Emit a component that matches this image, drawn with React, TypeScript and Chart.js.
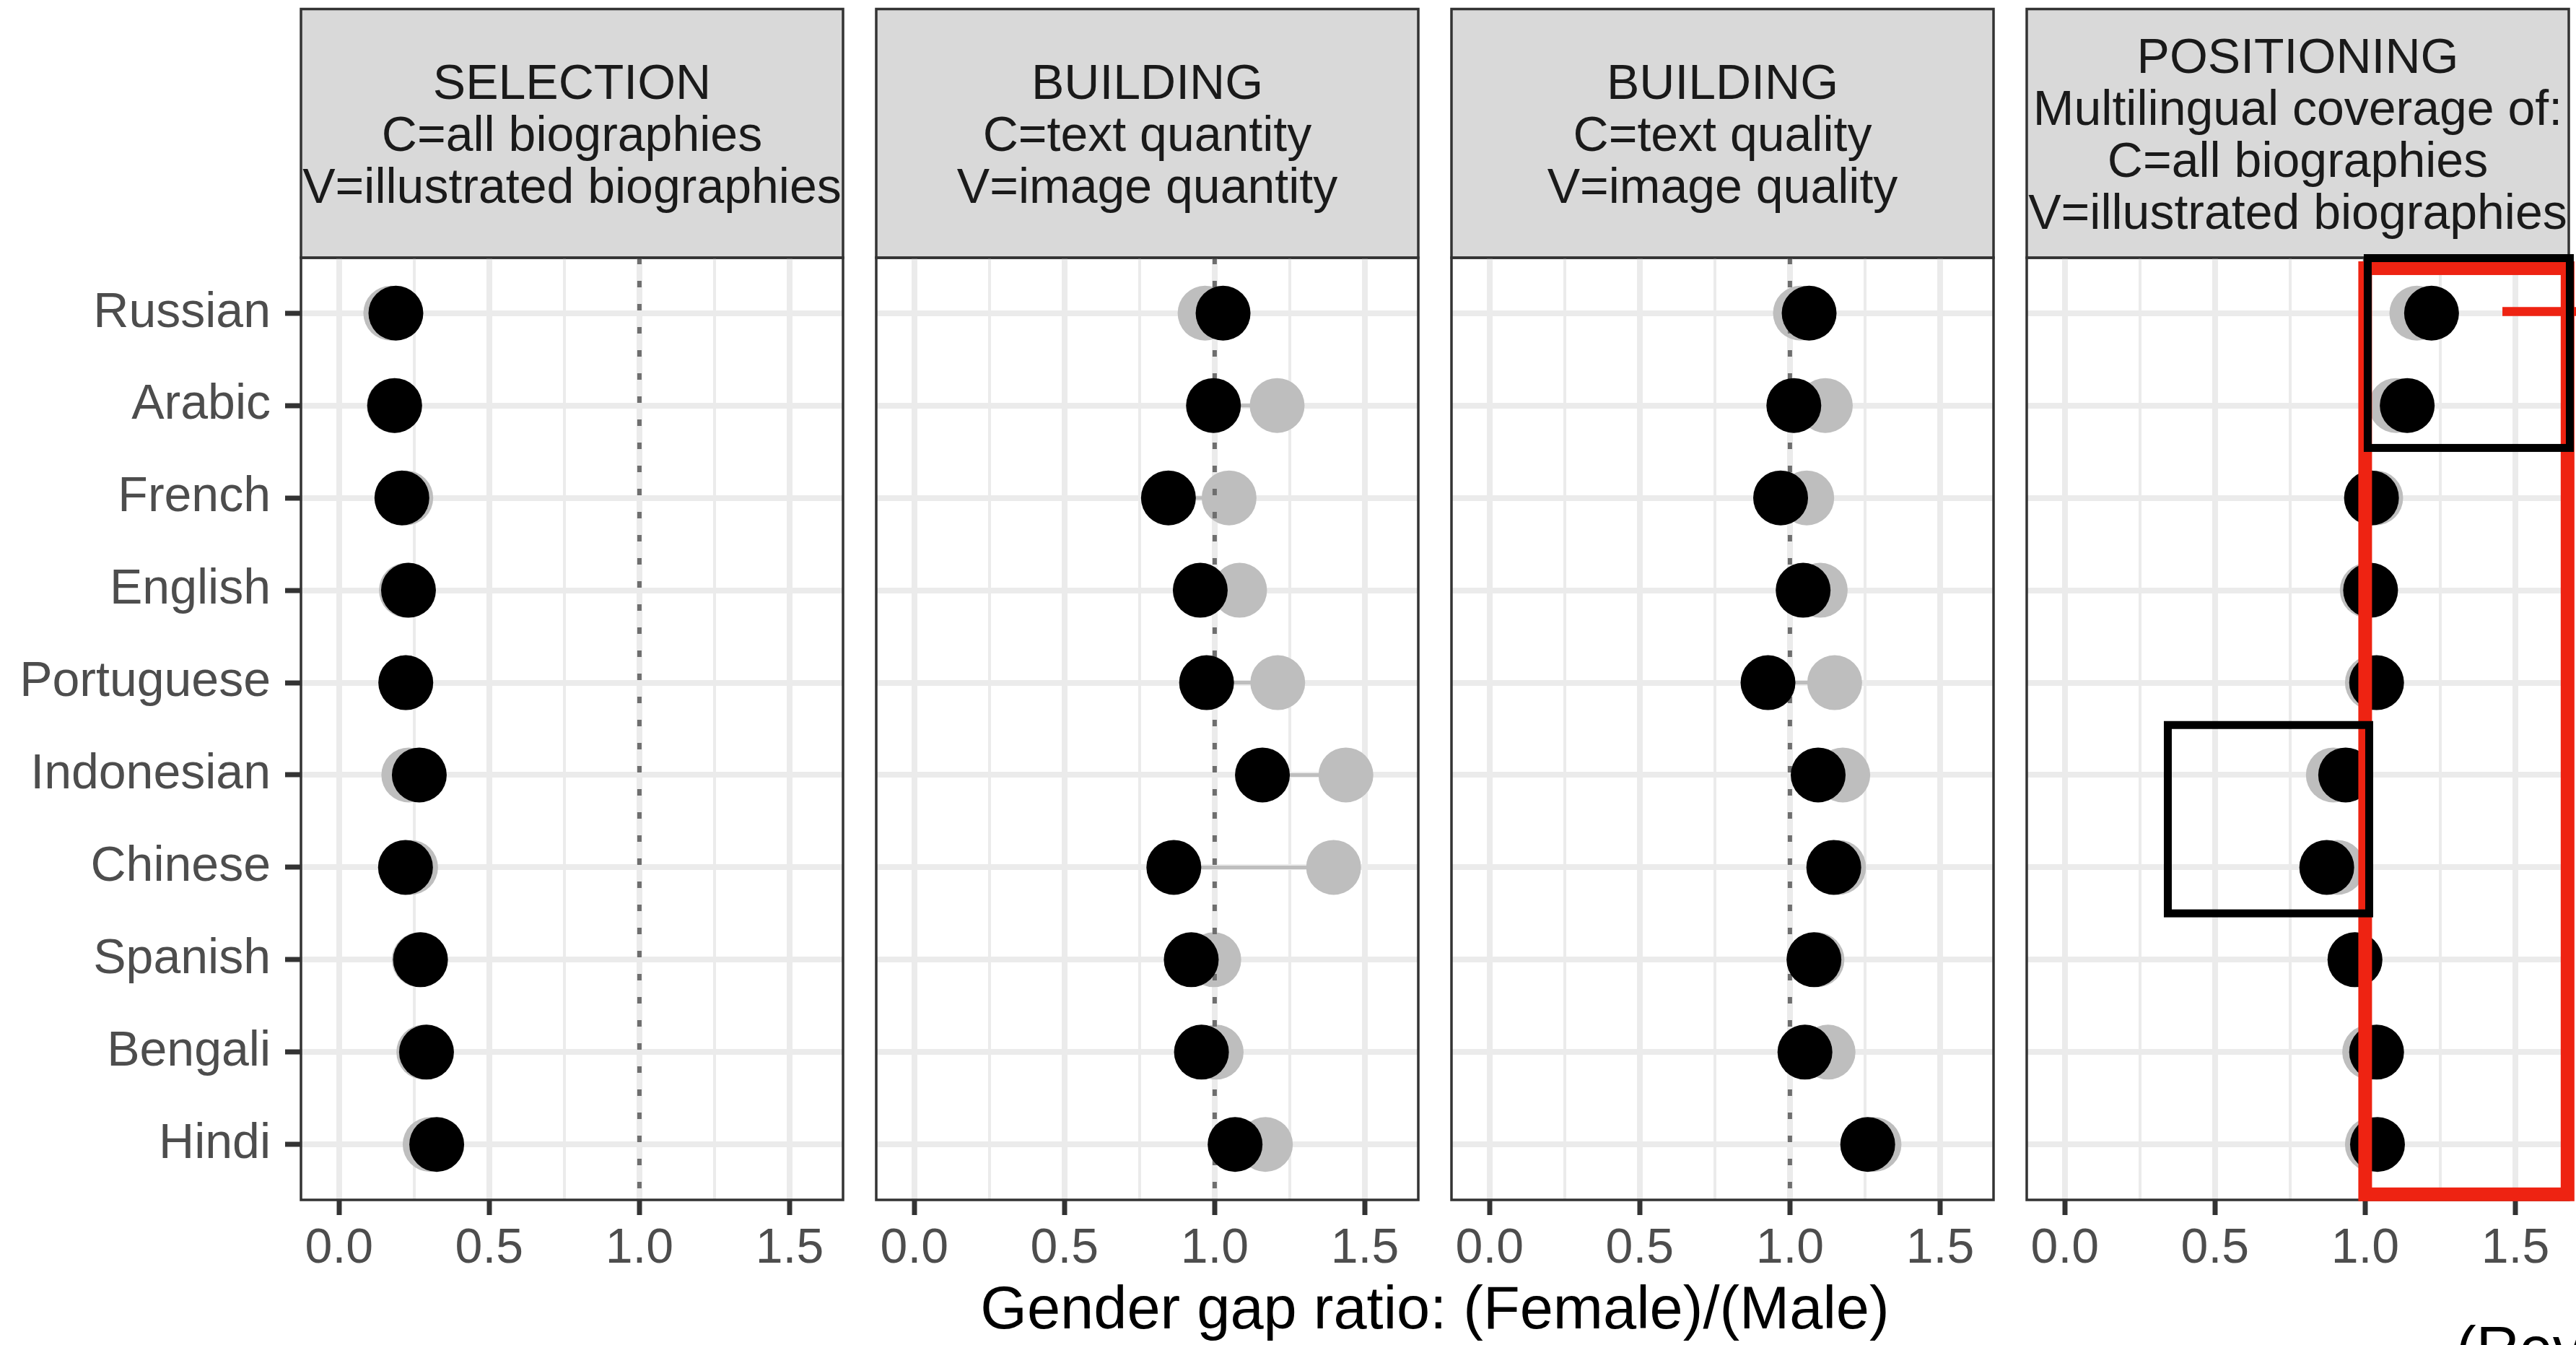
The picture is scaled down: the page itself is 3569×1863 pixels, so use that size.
import React, { useEffect, useRef } from 'react';
import { Chart, registerables } from 'chart.js';

Chart.register(...registerables);

// ---------------- data ----------------
const languages = ['Russian', 'Arabic', 'French', 'English', 'Portuguese', 'Indonesian', 'Chinese', 'Spanish', 'Bengali', 'Hindi'];

const xTickValues = [0, 0.25, 0.5, 0.75, 1, 1.25, 1.5];
const xMajorTicks = [0, 0.5, 1, 1.5];
const referenceRatio = 1;

const selectionGray = [0.172, 0.183, 0.222, 0.224, 0.222, 0.232, 0.238, 0.267, 0.282, 0.303];
const selectionBlack = [0.189, 0.185, 0.209, 0.231, 0.222, 0.267, 0.221, 0.271, 0.291, 0.325];

const quantityGray = [0.968, 1.208, 1.048, 1.083, 1.21, 1.437, 1.396, 0.997, 1.005, 1.169];
const quantityBlack = [1.028, 0.996, 0.846, 0.952, 0.973, 1.159, 0.864, 0.922, 0.956, 1.068];

const qualityGray = [1.035, 1.118, 1.056, 1.101, 1.149, 1.176, 1.162, 1.09, 1.127, 1.28];
const qualityBlack = [1.064, 1.013, 0.969, 1.044, 0.927, 1.094, 1.146, 1.08, 1.05, 1.259];

const positioningGray = [1.172, 1.103, 1.035, 1.007, 1.024, 0.894, 0.907, 0.966, 1.015, 1.024];
const positioningBlack = [1.221, 1.14, 1.021, 1.018, 1.038, 0.935, 0.872, 0.966, 1.038, 1.041];

const panelTitles = [
  ['SELECTION', 'C=all biographies', 'V=illustrated biographies'],
  ['BUILDING', 'C=text quantity', 'V=image quantity'],
  ['BUILDING', 'C=text quality', 'V=image quality'],
  ['POSITIONING', 'Multilingual coverage of:', 'C=all biographies', 'V=illustrated biographies'],
];

const panelGray = [selectionGray, quantityGray, qualityGray, positioningGray];
const panelBlack = [selectionBlack, quantityBlack, qualityBlack, positioningBlack];

const xAxisTitle = 'Gender gap ratio: (Female)/(Male)';
const cornerNote = '(Rev';

// highlight annotations on the last panel (data units)
const highlightBoxes = [
  { x0: 1.0, x1: 1.674, y0: 0.513, y1: 10.54, color: '#EE2312', width: 19 },
  { x0: 1.0085, x1: 1.6815, y0: 0.404, y1: 2.459, color: '#000000', width: 11 },
  { x0: 0.3428, x1: 1.0134, y0: 5.459, y1: 7.498, color: '#000000', width: 11 },
];
const highlightDash = { x0: 1.457, x1: 1.75, y: 0.982, color: '#EE2312', width: 12.5 };

// ---------------- layout ----------------
const W = 3569;
const H = 1863;
const X_MIN = -0.127;
const X_MAX = 1.678;
const Y_MIN = 0.4;
const Y_MAX = 10.6;
const PANEL_LEFTS = [417, 1214, 2011, 2808];
const PANEL_WIDTH = 751;
const STRIP_TOP = 12.5;
const PANEL_TOP = 357;
const PANEL_BOTTOM = 1662;
const X_AXIS_H = 120;
const FONT = '"Liberation Sans", Arial, Helvetica, sans-serif';

const isMajor = (v: number) => xMajorTicks.some((m) => Math.abs(m - v) < 1e-9);

function PanelChart({ index }: { index: number }) {
  const ref = useRef<HTMLCanvasElement | null>(null);
  const yAxisWidth = index === 0 ? PANEL_LEFTS[0] : 10;
  const canvasLeft = PANEL_LEFTS[index] - yAxisWidth;
  const canvasWidth = yAxisWidth + PANEL_WIDTH + 10;

  useEffect(() => {
    const canvas = ref.current;
    if (!canvas) return;
    const gray = panelGray[index];
    const black = panelBlack[index];
    const title = panelTitles[index];

    const segments = black.map((b, i) => ({
      data: [
        { x: b, y: i + 1 },
        { x: gray[i], y: i + 1 },
      ],
      showLine: true,
      borderColor: '#BEBEBE',
      borderWidth: 5,
      pointRadius: 0,
      order: 4,
    }));

    const decoPlugin = {
      id: 'panelDeco',
      beforeDraw(chart: any) {
        const { ctx, chartArea } = chart;
        ctx.save();
        const left = chartArea.left;
        const width = chartArea.right - chartArea.left;
        ctx.fillStyle = '#D9D9D9';
        ctx.fillRect(left, STRIP_TOP, width, PANEL_TOP - STRIP_TOP);
        ctx.strokeStyle = '#333333';
        ctx.lineWidth = 3.5;
        ctx.strokeRect(left, STRIP_TOP, width, PANEL_TOP - STRIP_TOP);
        ctx.fillStyle = '#1A1A1A';
        ctx.font = `68px ${FONT}`;
        ctx.textAlign = 'center';
        ctx.textBaseline = 'alphabetic';
        const cx = left + width / 2;
        const mid = (STRIP_TOP + PANEL_TOP) / 2 + 24.5;
        const n = title.length;
        title.forEach((line, k) => {
          ctx.fillText(line, cx, mid + (k - (n - 1) / 2) * 72);
        });
        ctx.restore();
      },
      afterDatasetsDraw(chart: any) {
        const { ctx, chartArea } = chart;
        ctx.save();
        ctx.strokeStyle = '#333333';
        ctx.lineWidth = 3.5;
        ctx.strokeRect(chartArea.left, chartArea.top, chartArea.right - chartArea.left, chartArea.bottom - chartArea.top);
        if (index === 3) {
          const xs = chart.scales.x;
          const ys = chart.scales.y;
          ctx.strokeStyle = highlightDash.color;
          ctx.lineWidth = highlightDash.width;
          ctx.beginPath();
          ctx.moveTo(xs.getPixelForValue(highlightDash.x0), ys.getPixelForValue(highlightDash.y));
          ctx.lineTo(xs.getPixelForValue(highlightDash.x1), ys.getPixelForValue(highlightDash.y));
          ctx.stroke();
          ctx.lineJoin = 'miter';
          highlightBoxes.forEach((b) => {
            const x0 = xs.getPixelForValue(b.x0);
            const x1 = xs.getPixelForValue(b.x1);
            const y0 = ys.getPixelForValue(b.y0);
            const y1 = ys.getPixelForValue(b.y1);
            ctx.strokeStyle = b.color;
            ctx.lineWidth = b.width;
            ctx.strokeRect(x0, y0, x1 - x0, y1 - y0);
          });
        }
        ctx.restore();
      },
    };

    const chart = new Chart(canvas, {
      type: 'scatter',
      data: {
        datasets: [
          ...segments,
          {
            data: gray.map((v, i) => ({ x: v, y: i + 1 })),
            pointRadius: 38,
            backgroundColor: '#BEBEBE',
            borderWidth: 0,
            order: 3,
          },
          {
            data: [
              { x: referenceRatio, y: Y_MIN },
              { x: referenceRatio, y: Y_MAX },
            ],
            showLine: true,
            borderColor: '#6E6E6E',
            borderWidth: 6,
            borderDash: [9, 23],
            pointRadius: 0,
            order: 2,
          },
          {
            data: black.map((v, i) => ({ x: v, y: i + 1 })),
            pointRadius: 38,
            backgroundColor: '#000000',
            borderWidth: 0,
            order: 1,
          },
        ] as any,
      },
      options: {
        responsive: false,
        animation: false,
        devicePixelRatio: 1,
        events: [],
        layout: {
          autoPadding: false,
          padding: { top: PANEL_TOP, right: 10, left: 0, bottom: H - PANEL_BOTTOM - X_AXIS_H },
        },
        plugins: {
          legend: { display: false },
          tooltip: { enabled: false },
          title: { display: false },
        },
        scales: {
          x: {
            type: 'linear',
            min: X_MIN,
            max: X_MAX,
            afterBuildTicks: (s: any) => {
              s.ticks = xTickValues.map((v) => ({ value: v }));
            },
            afterFit: (s: any) => {
              s.height = X_AXIS_H;
            },
            border: { display: false },
            grid: {
              color: '#EBEBEB',
              lineWidth: (c: any) => (c.tick && isMajor(c.tick.value) ? 8 : 4),
              tickLength: 21,
              tickWidth: 7,
              tickColor: (c: any) => (c.tick && isMajor(c.tick.value) ? '#333333' : 'rgba(0,0,0,0)'),
            },
            ticks: {
              autoSkip: false,
              maxRotation: 0,
              padding: 6,
              color: '#4D4D4D',
              font: { size: 68, family: FONT },
              callback: (v: any) => (isMajor(Number(v)) ? Number(v).toFixed(1) : ''),
            },
          },
          y: {
            type: 'linear',
            reverse: true,
            min: Y_MIN,
            max: Y_MAX,
            afterBuildTicks: (s: any) => {
              s.ticks = languages.map((_, i) => ({ value: i + 1 }));
            },
            afterFit: (s: any) => {
              s.width = yAxisWidth;
            },
            border: { display: false },
            grid: {
              color: '#EBEBEB',
              lineWidth: 8,
              drawTicks: index === 0,
              tickLength: 22,
              tickWidth: 7,
              tickColor: '#333333',
            },
            ticks: {
              display: index === 0,
              padding: 20,
              color: '#4D4D4D',
              font: { size: 68, family: FONT },
              callback: (v: any) => languages[Math.round(Number(v)) - 1] ?? '',
            },
          },
        },
      } as any,
      plugins: [decoPlugin],
    });
    return () => chart.destroy();
  }, [index]);

  return (
    <canvas
      ref={ref}
      width={canvasWidth}
      height={H}
      style={{ position: 'absolute', left: canvasLeft, top: 0, width: canvasWidth, height: H }}
    />
  );
}

export default function App() {
  return (
    <div
      style={{
        position: 'absolute',
        left: 0,
        top: 0,
        width: W,
        height: H,
        overflow: 'hidden',
        background: '#ffffff',
        fontFamily: FONT,
      }}
    >
      {panelTitles.map((_, i) => (
        <PanelChart key={i} index={i} />
      ))}
      <div
        style={{
          position: 'absolute',
          left: 988,
          width: 2000,
          top: 1770,
          textAlign: 'center',
          fontSize: 83,
          lineHeight: '83px',
          color: '#000000',
          whiteSpace: 'nowrap',
        }}
      >
        {xAxisTitle}
      </div>
      <div
        style={{
          position: 'absolute',
          left: 3403,
          top: 1826,
          fontSize: 83,
          lineHeight: '83px',
          color: '#000000',
          whiteSpace: 'nowrap',
        }}
      >
        {cornerNote}
      </div>
    </div>
  );
}
